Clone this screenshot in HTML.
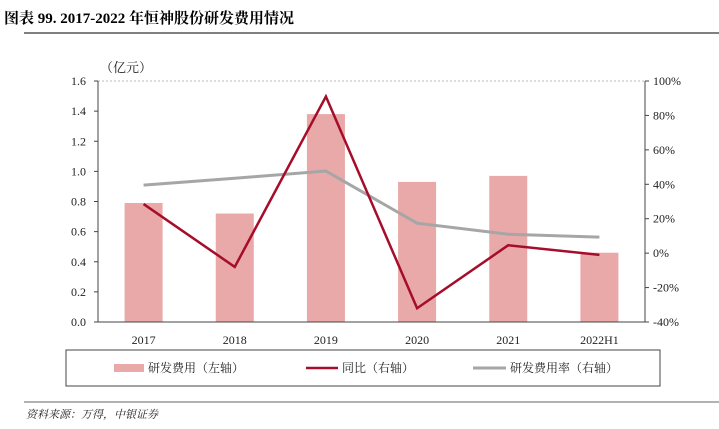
<!DOCTYPE html>
<html><head><meta charset="utf-8"><style>
body{margin:0;background:#fff;width:719px;height:424px;overflow:hidden;font-family:"Liberation Serif","Noto Serif CJK SC",serif;}
</style></head><body>
<svg id="c" width="719" height="424" xmlns="http://www.w3.org/2000/svg">
<text x="4" y="23" font-size="15" font-weight="bold" fill="#000" font-family="Liberation Serif, Noto Serif CJK SC, serif">图表 99. 2017-2022 年恒神股份研发费用情况</text>
<line x1="24" y1="33" x2="719" y2="33" stroke="#000" stroke-width="1"/>
<text x="100" y="72" font-size="13" fill="#222">（亿元）</text>
<g id="plot"></g>
<rect x="66" y="350" width="594" height="36" fill="none" stroke="#444" stroke-width="1"/>
<rect x="114" y="364" width="30" height="8" fill="#e8a9a8"/>
<text x="148" y="372" font-size="12" fill="#222">研发费用（左轴）</text>
<line x1="306" y1="368" x2="338" y2="368" stroke="#a50d2a" stroke-width="2.5"/>
<text x="342" y="372" font-size="12" fill="#222">同比（右轴）</text>
<line x1="473" y1="368" x2="506" y2="368" stroke="#a6a6a6" stroke-width="3"/>
<text x="510" y="372" font-size="12" fill="#222">研发费用率（右轴）</text>
<line x1="24" y1="402" x2="719" y2="402" stroke="#666" stroke-width="1"/>
<text x="26" y="418" font-size="11" font-style="italic" fill="#222">资料来源：万得，中银证券</text>
</svg>
<script>
const categories=["2017","2018","2019","2020","2021","2022H1"];
const rdExpense=[0.79,0.72,1.38,0.93,0.97,0.46];
const yoy=[28.5,-8,91,-32,4.6,-1];
const rdRatio=[39.5,43.5,47.7,17.4,11,9.3];
const leftTicks=[0,0.2,0.4,0.6,0.8,1.0,1.2,1.4,1.6];
const rightTicks=[-40,-20,0,20,40,60,80,100];
const NS="http://www.w3.org/2000/svg";
const g=document.getElementById("plot");
const X0=98,X1=645,Y0=322,Y1=81;
const band=(X1-X0)/categories.length;
const xc=i=>X0+band*(i+0.5);
const yl=v=>Y0-(v/1.6)*(Y0-Y1);
const yr=v=>Y0-((v+40)/140)*(Y0-Y1);
function mk(t,a){const e=document.createElementNS(NS,t);for(const k in a)e.setAttribute(k,a[k]);g.appendChild(e);return e;}
let e;
e=mk("line",{x1:X0,y1:Y1,x2:X1,y2:Y1,stroke:"#bbb","stroke-dasharray":"2,2"});


rdExpense.forEach((v,i)=>{
 const b=mk("rect",{x:xc(i)-19,y:yl(v),width:38,height:Y0-yl(v),fill:"#e8a9a8"});
 
 
});
leftTicks.forEach(v=>{
 const t=mk("text",{x:X0-12,y:yl(v)+4,"text-anchor":"end","font-size":"12",fill:"#222"});
 t.textContent=v.toFixed(1);
 
 
 const l=mk("line",{x1:X0-4,y1:yl(v),x2:X0,y2:yl(v),stroke:"#444"});
 
 
});
rightTicks.forEach(v=>{
 const t=mk("text",{x:X1+8,y:yr(v)+4,"font-size":"12",fill:"#222"});
 t.textContent=v+"%";
 
 
 const l=mk("line",{x1:X1,y1:yr(v),x2:X1+4,y2:yr(v),stroke:"#444"});
 
 
});
categories.forEach((c,i)=>{
 const t=mk("text",{x:xc(i),y:Y0+22,"text-anchor":"middle","font-size":"12",fill:"#222"});
 t.textContent=c;
 
 
});
e=mk("line",{x1:X0,y1:Y1,x2:X0,y2:Y0,stroke:"#444"});


e=mk("line",{x1:X1,y1:Y1,x2:X1,y2:Y0,stroke:"#444"});


e=mk("line",{x1:X0,y1:Y0,x2:X1,y2:Y0,stroke:"#444"});


e=mk("polyline",{points:rdRatio.map((v,i)=>xc(i)+","+yr(v)).join(" "),fill:"none",stroke:"#a6a6a6","stroke-width":"3"});


e=mk("polyline",{points:yoy.map((v,i)=>xc(i)+","+yr(v)).join(" "),fill:"none",stroke:"#a50d2a","stroke-width":"2.5"});


</script>
</body></html>
